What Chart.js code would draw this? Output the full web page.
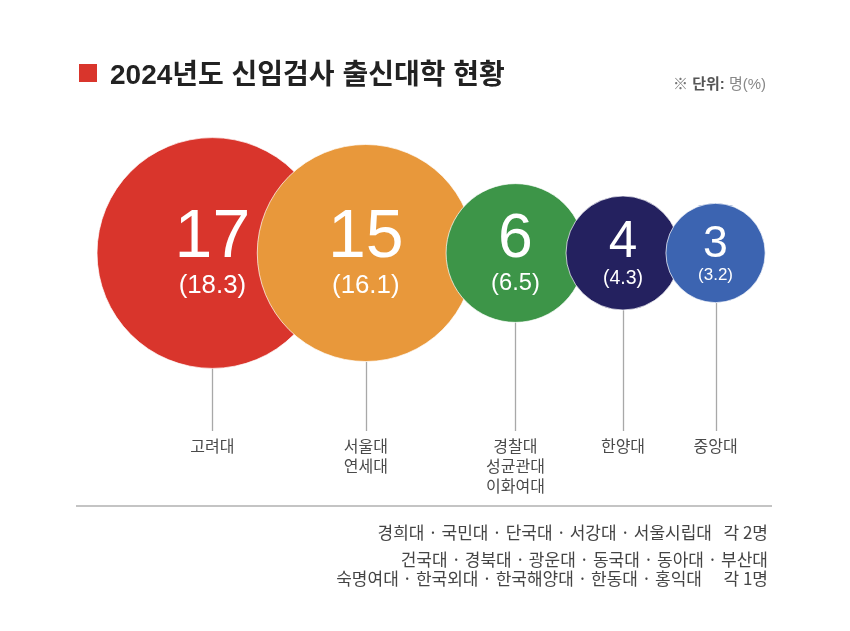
<!DOCTYPE html>
<html lang="ko">
<head>
<meta charset="UTF-8">
<title>2024년도 신임검사 출신대학 현황</title>
<script src="https://cdn.jsdelivr.net/npm/chart.js"></script>
<style>
    body { margin: 0; background: #ffffff; }
    .wrap { width: 850px; height: 631px; position: relative; }
</style>
</head>
<body>
<div class="wrap"><canvas id="chart"></canvas></div>
<script>
// data
const schools = [['고려대'], ['서울대', '연세대'], ['경찰대', '성균관대', '이화여대'], ['한양대'], ['중앙대']];
const counts = [17, 15, 6, 4, 3];
const shares = [18.3, 16.1, 6.5, 4.3, 3.2];
const twoEach = ['경희대', '국민대', '단국대', '서강대', '서울시립대'];
const oneEachA = ['건국대', '경북대', '광운대', '동국대', '동아대', '부산대'];
const oneEachB = ['숙명여대', '한국외대', '한국해양대', '한동대', '홍익대'];

const colors = ['#d9352c', '#e8983b', '#3d9548', '#24215f', '#3c64b1'];
const LATIN = "'Liberation Sans', Arial, 'Noto Sans CJK KR', sans-serif";
const KR = "'Noto Sans CJK KR', sans-serif";

// layout: bubble radius from the count, bubbles packed left to right
const LEFT = 97, CY = 253, LINE_END = 431;
function radiusOf(v) { return 27.5 * Math.sqrt(v) + 2; }
function overlapOf(a, b) { return 4.7 * Math.min(a, b); }

const radii = counts.map(radiusOf);
const centers = [];
counts.forEach((v, i) => {
    if (i === 0) centers.push(LEFT + radii[0]);
    else centers.push(centers[i - 1] + radii[i - 1] + radii[i] - overlapOf(counts[i - 1], v));
});
const points = counts.map((v, i) => ({ x: centers[i], y: CY, r: radii[i] }));

const decor = {
    id: 'decor',
    beforeDatasetsDraw(chart) {
        const ctx = chart.ctx;
        const meta = chart.getDatasetMeta(0);
        ctx.save();
        ctx.strokeStyle = '#a8a8a8';
        ctx.lineWidth = 1.3;
        meta.data.forEach((el, i) => {
            const r = el.options.radius;
            ctx.beginPath();
            ctx.moveTo(Math.round(el.x) + 0.5, el.y + r);
            ctx.lineTo(Math.round(el.x) + 0.5, LINE_END);
            ctx.stroke();
            ctx.fillStyle = '#4a4a4a';
            ctx.font = '16px ' + KR;
            ctx.textAlign = 'center';
            ctx.textBaseline = 'middle';
            schools[i].forEach((s, j) => ctx.fillText(s, el.x, 446 + j * 20));
        });
        ctx.restore();
    },
    afterDatasetsDraw(chart) {
        const ctx = chart.ctx;
        const meta = chart.getDatasetMeta(0);
        ctx.save();
        ctx.fillStyle = '#ffffff';
        ctx.textAlign = 'center';
        meta.data.forEach((el, i) => {
            const r = el.options.radius;
            const big = Math.min(68, r * 0.9);
            const small = big * 0.38;
            ctx.font = big + 'px ' + LATIN;
            ctx.textBaseline = 'alphabetic';
            ctx.fillText(String(counts[i]), el.x, el.y + 4);
            ctx.font = small + 'px ' + LATIN;
            ctx.textBaseline = 'middle';
            ctx.fillText('(' + shares[i].toFixed(1) + ')', el.x, el.y + 0.42 * big + 4);
        });
        ctx.restore();
    },
    afterDraw(chart) {
        const ctx = chart.ctx;
        ctx.save();
        // title
        ctx.fillStyle = colors[0];
        ctx.fillRect(79, 64, 18, 18);
        ctx.fillStyle = '#222222';
        ctx.font = 'bold 28px ' + LATIN;
        ctx.textAlign = 'left';
        ctx.textBaseline = 'alphabetic';
        ctx.fillText('2024년도 신임검사 출신대학 현황', 110, 84);

        // unit note
        ctx.font = '15px ' + LATIN;
        let x = 673;
        ctx.fillStyle = '#777777';
        ctx.fillText('※ ', x, 89);
        x += ctx.measureText('※ ').width;
        ctx.font = 'bold 15px ' + LATIN;
        ctx.fillStyle = '#555555';
        ctx.fillText('단위:', x, 89);
        x += ctx.measureText('단위: ').width;
        ctx.font = '15px ' + LATIN;
        ctx.fillStyle = '#888888';
        ctx.fillText('명(%)', x, 89);

        // divider
        ctx.strokeStyle = '#c4c4c4';
        ctx.lineWidth = 2;
        ctx.beginPath();
        ctx.moveTo(76, 506);
        ctx.lineTo(772, 506);
        ctx.stroke();

        // remaining schools
        ctx.fillStyle = '#444444';
        ctx.font = '17px ' + KR;
        ctx.textAlign = 'right';
        ctx.textBaseline = 'middle';
        ctx.fillText(twoEach.join(' · '), 712, 533);
        ctx.fillText('각 2명', 768, 533);
        ctx.fillText(oneEachA.join(' · '), 768, 560);
        ctx.fillText(oneEachB.join(' · '), 702, 579);
        ctx.fillText('각 1명', 768, 579);
        ctx.restore();
    }
};

new Chart(document.getElementById('chart'), {
    type: 'bubble',
    data: {
        datasets: [{
            data: points,
            backgroundColor: colors,
            borderColor: 'rgba(255,255,255,0.7)',
            borderWidth: 1,
            hoverBorderWidth: 1,
            clip: false
        }]
    },
    options: {
        responsive: true,
        maintainAspectRatio: false,
        animation: false,
        layout: { autoPadding: false, padding: 0 },
        scales: {
            x: { type: 'linear', min: 0, max: 850, display: false },
            y: { type: 'linear', min: 0, max: 631, reverse: true, display: false }
        },
        plugins: {
            legend: { display: false },
            tooltip: { enabled: false }
        }
    },
    plugins: [decor]
});
</script>
</body>
</html>
